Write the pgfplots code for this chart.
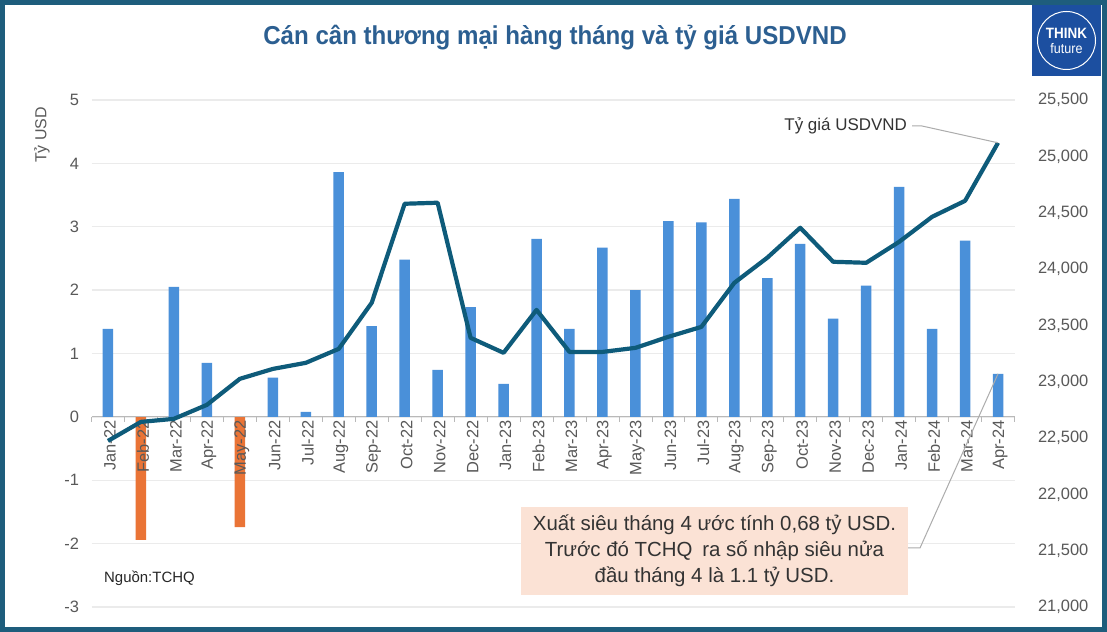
\documentclass[border=0pt]{standalone}
\usepackage{fontspec}
\setmainfont{Liberation Sans}
\usepackage{graphicx}
\usepackage{pgfplots}
\pgfplotsset{compat=1.18}
\definecolor{framecol}{HTML}{1E5D7C}
\definecolor{titlecol}{HTML}{2C5F91}
\definecolor{barblue}{HTML}{4A90D9}
\definecolor{barorange}{HTML}{EA7436}
\definecolor{linecol}{HTML}{0E5B7A}
\definecolor{peach}{HTML}{FBE2D5}
\definecolor{logoblue}{HTML}{1C4FA0}
\definecolor{ticktext}{HTML}{595959}
\definecolor{gridcol}{HTML}{EBEBEB}
\pgfplotsset{
  common/.style={
    at={(91.5bp,25bp)}, anchor=south west,
    width=923bp, height=507bp, scale only axis,
    xmin=-0.5, xmax=27.5, enlargelimits=false,
  },
}
\begin{document}
\begin{tikzpicture}[x=1bp,y=1bp]
\useasboundingbox (0,0) rectangle (1107,632);
\fill[white] (0,0) rectangle (1107,632);
% background axis: grid and negative bars
\begin{axis}[
  common, ymin=-3, ymax=5,
  axis line style={draw=none},
  xtick=\empty, ytick={-3,...,5}, yticklabels={},
  major tick length=0pt,
  ymajorgrids=true,
  grid style={draw=gridcol, line width=1.3bp},
]
\addplot[ybar, bar width=10.5bp, bar shift=0pt, fill=barorange, draw=none] coordinates {
(1,-1.94) (4,-1.74)};
\end{axis}
% primary axis: trade balance
\begin{axis}[
  common, ymin=-3, ymax=5,
  axis x line*=middle, axis y line*=left,
  hide obscured x ticks=false, hide obscured y ticks=false,
  y axis line style={draw=none},
  x axis line style={draw=gray!55, line width=0.8bp},
  xtick={0,...,27},
  xticklabels={Jan-22,Feb-22,Mar-22,Apr-22,May-22,Jun-22,Jul-22,Aug-22,Sep-22,Oct-22,Nov-22,Dec-22,Jan-23,Feb-23,Mar-23,Apr-23,May-23,Jun-23,Jul-23,Aug-23,Sep-23,Oct-23,Nov-23,Dec-23,Jan-24,Feb-24,Mar-24,Apr-24},
  minor xtick={-0.5,0.5,...,27.5},
  major tick length=0pt, minor tick length=5bp,
  tick align=outside,
  minor tick style={draw=gray!55, line width=0.8bp},
  ytick={-3,...,5},
  x tick label style={rotate=90, anchor=east, font=\fontsize{16.5}{18}\selectfont, text=ticktext, yshift=-2bp},
  y tick label style={font=\fontsize{16.5}{18}\selectfont, text=ticktext, xshift=-9bp},
  /pgf/number format/assume math mode=true,
]
\addplot[ybar, bar width=10.5bp, bar shift=0pt, fill=barblue, draw=none] coordinates {
(0,1.39) (2,2.05) (3,0.85) (5,0.62) (6,0.08) (7,3.86) (8,1.43) (9,2.48) (10,0.74) (11,1.73)
(12,0.52) (13,2.81) (14,1.39) (15,2.67) (16,2.00) (17,3.09) (18,3.07) (19,3.44) (20,2.19)
(21,2.73) (22,1.55) (23,2.07) (24,3.63) (25,1.39) (26,2.78) (27,0.68)};
\coordinate (aprbar) at (axis cs:27,0.68);
\end{axis}
% secondary axis: USDVND
\begin{axis}[
  common, ymin=21000, ymax=25500,
  axis x line=none, axis y line*=right,
  y axis line style={draw=none},
  major tick length=0pt,
  scaled y ticks=false,
  ytick={21000,21500,...,25500},
  y tick label style={font=\fontsize{16.5}{18}\selectfont, text=ticktext, xshift=20bp},
  /pgf/number format/.cd, 1000 sep={,}, assume math mode=true,
]
\addplot[color=linecol, line width=4.2bp, line join=round, mark=none] coordinates {
(0,22474) (1,22643) (2,22670) (3,22794) (4,23025) (5,23113) (6,23167) (7,23291)
(8,23700) (9,24579) (10,24588) (11,23389) (12,23256) (13,23637) (14,23264) (15,23264)
(16,23300) (17,23398) (18,23486) (19,23877) (20,24100) (21,24366) (22,24064) (23,24055)
(24,24241) (25,24463) (26,24605) (27,25120)};
\coordinate (aprline) at (axis cs:27,25120);
\end{axis}
% annotations
\draw[gray!65, line width=1bp] (912,506) -- (922,506) -- (aprline);
\node[anchor=east, font=\fontsize{17}{19}\selectfont, text=black!80, inner sep=0pt] at (907,506) {Tỷ giá USDVND};
\draw[gray!65, line width=1bp] (908,84) -- (920,84) -- (aprbar);
\node[fill=peach, minimum width=387bp, minimum height=88bp, align=center, inner sep=0pt,
  font=\fontsize{20.5}{26}\selectfont, text=black!80] at (714.5,81)
  {Xuất siêu tháng 4 ước tính 0,68 tỷ USD.\\Trước đó TCHQ \hspace{0.2em}ra số nhập siêu nửa\\đầu tháng 4 là 1.1 tỷ USD.};
\node[anchor=west, font=\fontsize{15}{16}\selectfont, text=black!85, inner sep=0pt] at (104,54) {Nguồn:TCHQ};
\node[rotate=90, font=\fontsize{16}{18}\selectfont, text=ticktext] at (42,497) {Tỷ USD};
% title
\node[font=\bfseries\fontsize{26}{30}\selectfont, text=titlecol] at (555,594)
  {\scalebox{0.93}[1]{Cán cân thương mại hàng tháng và tỷ giá USDVND}};
% logo
\fill[logoblue] (1032,556) rectangle (1101,627);
\draw[white, line width=1bp] (1066.5,591.5) circle (29);
\node[text=white, font=\bfseries\fontsize{15}{16}\selectfont, inner sep=0pt] at (1066.5,599) {\scalebox{0.9}[1]{THINK}};
\node[text=white, font=\fontsize{14}{15}\selectfont, inner sep=0pt] at (1066.5,583) {\scalebox{0.9}[1]{future}};
% frame
\draw[framecol, line width=5bp] (2.5,2.5) rectangle (1104.5,629.5);
\end{tikzpicture}
\end{document}
